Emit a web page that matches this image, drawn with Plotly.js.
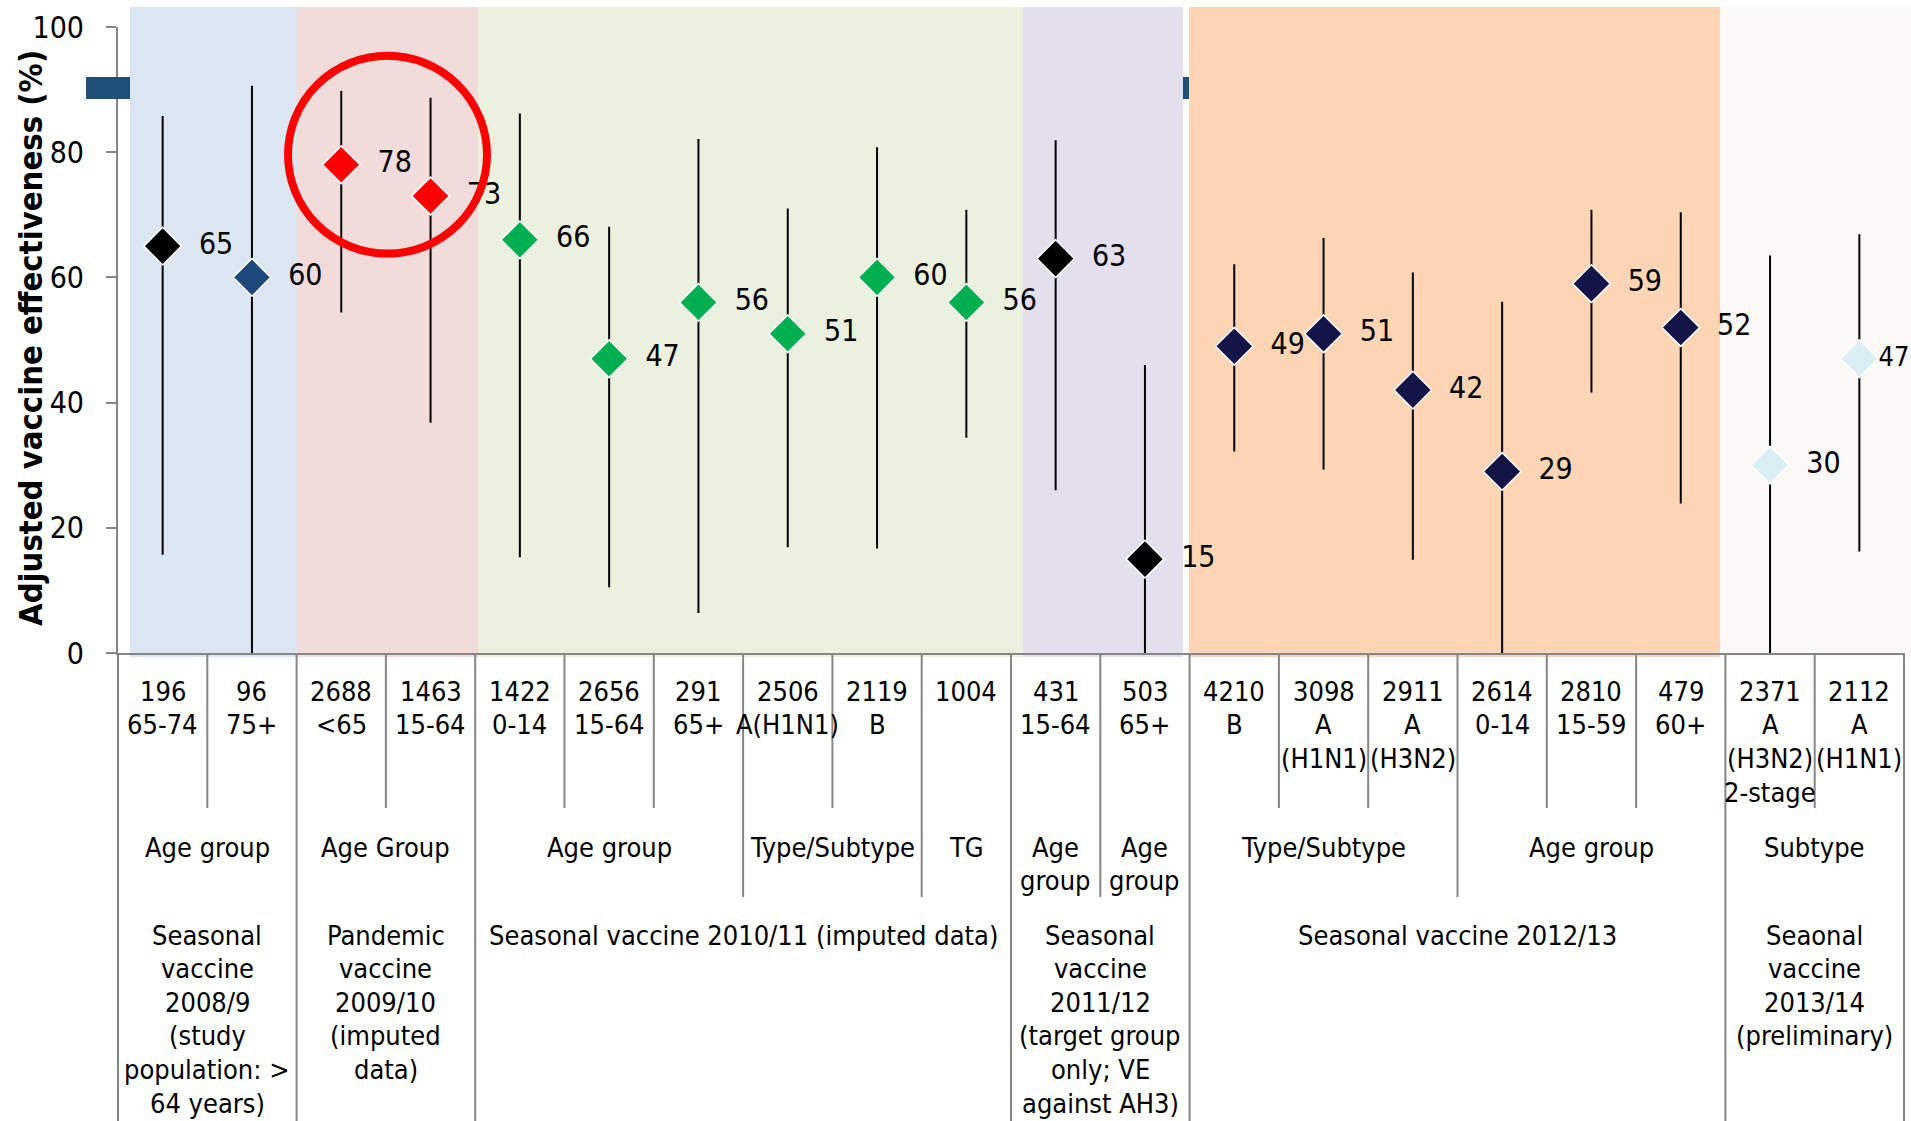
<!DOCTYPE html>
<html>
<head>
<meta charset="utf-8">
<script src="https://cdn.plot.ly/plotly-3.0.1.min.js"></script>
<style>html,body{margin:0;padding:0;background:#ffffff;}</style>
</head>
<body>
<div id="chart" style="width:1911px;height:1121px;"></div>
<script>
// ---------------- DATA ----------------
const sampleSizes = ['196','96','2688','1463','1422','2656','291','2506','2119','1004',
                     '431','503','4210','3098','2911','2614','2810','479','2371','2112'];
const subgroupLines = [['65-74'],['75+'],['&lt;65'],['15-64'],['0-14'],['15-64'],['65+'],['A(H1N1)'],['B'],[],
                       ['15-64'],['65+'],['B'],['A','(H1N1)'],['A','(H3N2)'],['0-14'],['15-59'],['60+'],
                       ['A','(H3N2)','2-stage'],['A','(H1N1)']];
const vaccineEffect = [65,60,78,73,66,47,56,51,60,56,63,15,49,51,42,29,59,52,30,47];
const ciLower = [15.7,0,54.4,36.8,15.3,10.5,6.4,16.9,16.7,34.4,26.0,0,32.2,29.3,14.9,0,41.6,23.9,0,16.2];
const ciUpper = [85.8,90.6,89.8,88.7,86.2,68.1,82.1,71.0,80.8,70.8,81.9,46.0,62.1,66.3,60.8,56.1,70.8,70.4,63.5,66.9];
const pointColors = ['#000000','#1F497D','#FF0000','#FF0000',
                     '#00B050','#00B050','#00B050','#00B050','#00B050','#00B050',
                     '#000000','#000000',
                     '#141446','#141446','#141446','#141446','#141446','#141446',
                     '#DAEEF3','#DAEEF3'];

const level2Labels = [['Age group'],['Age Group'],['Age group'],['Type/Subtype'],['TG'],
                      ['Age','group'],['Age','group'],['Type/Subtype'],['Age group'],['Subtype']];
const level2Start = [0,2,4,7,9,10,11,12,15,18];
const level2End   = [1,3,6,8,9,10,11,14,17,19];

const level3Labels = [
  ['Seasonal','vaccine','2008/9','(study','population: &gt;','64 years)'],
  ['Pandemic','vaccine','2009/10','(imputed','data)'],
  ['Seasonal vaccine 2010/11 (imputed data)'],
  ['Seasonal','vaccine','2011/12','(target group','only; VE','against AH3)'],
  ['Seasonal vaccine 2012/13'],
  ['Seaonal','vaccine','2013/14','(preliminary)']
];
const level3Start = [0,2,4,10,12,18];
const level3End   = [1,3,9,11,17,19];
const sectionColors = ['#DCE6F2','#F2DCDB','#EBF1DE','#E4DFEC','#FCD5B5','#FAF9F7'];

const yTitle = 'Adjusted vaccine effectiveness (%)';

// ---------------- LAYOUT HELPERS ----------------
const FONT = "'DejaVu Sans Condensed', 'DejaVu Sans', sans-serif";
const W = 1911, H = 1121;
const M = {l:118, r:7, t:27, b:468};
const plotH = H - M.t - M.b;           // 626
const axisPy = H - M.b;                // 653
const pyToPaper = py => (axisPy - py) / plotH;
const pxToPaper = px => (px - M.l) / (W - M.l - M.r);
const nCat = sampleSizes.length;
const boundToPaper = b => (b + 0.5) / nCat;
const CAT_SIZE = 27;

const xIdx = sampleSizes.map((_, i) => i);

const annotations = [];
// level 1 labels
sampleSizes.forEach((n, i) => {
  const lines = [n].concat(subgroupLines[i]);
  lines.forEach((t, j) => {
    annotations.push({x: i, xref: 'x', y: pyToPaper(691 + 33.7 * j), yref: 'paper',
      text: t, showarrow: false, xanchor: 'center', yanchor: 'middle',
      font: {family: FONT, size: CAT_SIZE, color: '#000000'}});
  });
});
// level 2 labels
level2Labels.forEach((lines, k) => {
  lines.forEach((t, j) => {
    annotations.push({x: (level2Start[k] + level2End[k]) / 2, xref: 'x', y: pyToPaper(847 + 33.3 * j), yref: 'paper',
      text: t, showarrow: false, xanchor: 'center', yanchor: 'middle',
      font: {family: FONT, size: CAT_SIZE, color: '#000000'}});
  });
});
// level 3 labels
level3Labels.forEach((lines, k) => {
  lines.forEach((t, j) => {
    annotations.push({x: (level3Start[k] + level3End[k]) / 2, xref: 'x', y: pyToPaper(935 + 33.6 * j), yref: 'paper',
      text: t, showarrow: false, xanchor: 'center', yanchor: 'middle',
      font: {family: FONT, size: CAT_SIZE, color: '#000000'}});
  });
});
// y axis title
annotations.push({x: pxToPaper(31), xref: 'paper', y: pyToPaper(338), yref: 'paper',
  text: '<b>' + yTitle + '</b>', textangle: -90, showarrow: false,
  xanchor: 'center', yanchor: 'middle',
  font: {family: FONT, size: 32.5, color: '#000000'}});

const shapes = [];
// section background bands (pixel-measured extents)
const bandPx = [[130,297],[297,478],[478,1023],[1023,1183],[1189,1720],[1720,1911]];
bandPx.forEach((b, k) => {
  shapes.push({type: 'rect', layer: 'below', xref: 'paper', yref: 'paper',
    x0: pxToPaper(b[0]), x1: pxToPaper(b[1]), y0: pyToPaper(657), y1: pyToPaper(7),
    fillcolor: sectionColors[k], line: {width: 0}});
});
// small blue artifacts near the top
[[86,130],[1183,1189]].forEach(b => {
  shapes.push({type: 'rect', layer: 'above', xref: 'paper', yref: 'paper',
    x0: pxToPaper(b[0]), x1: pxToPaper(b[1]), y0: pyToPaper(99), y1: pyToPaper(77),
    fillcolor: '#1F4E79', line: {width: 0}});
});
// dividers of the multi-level category axis
const lvl3Bounds = [-0.5].concat(level3End.map(e => e + 0.5));
const lvl2Bounds = level2End.map(e => e + 0.5).filter(b => lvl3Bounds.indexOf(b) < 0);
for (let b = -0.5; b <= nCat - 0.5; b += 1) {
  let bottom = 808;
  if (lvl2Bounds.indexOf(b) >= 0) bottom = 897;
  if (lvl3Bounds.indexOf(b) >= 0) bottom = 1121;
  shapes.push({type: 'line', layer: 'above', xref: 'paper', yref: 'paper',
    x0: boundToPaper(b), x1: boundToPaper(b), y0: 0, y1: pyToPaper(bottom),
    line: {color: '#868686', width: 2}});
}
// red highlight circle
shapes.push({type: 'circle', layer: 'above', xref: 'x', yref: 'y',
  x0: 1.404, x1: 3.632, y0: 63.8, y1: 95.4,
  line: {color: '#FF0000', width: 8}});

const trace = {
  type: 'scatter', mode: 'markers+text',
  x: xIdx, y: vaccineEffect,
  text: vaccineEffect.map((v, i) => (i === nCat - 1 ? '' : '&nbsp;&nbsp;') + v),
  textposition: 'middle right',
  textfont: {family: FONT, size: vaccineEffect.map((v, i) => i === nCat - 1 ? 27 : 30), color: '#000000'},
  cliponaxis: false,
  marker: {symbol: 'diamond', size: 29, color: pointColors, line: {color: '#FFFFFF', width: 1.5}},
  error_y: {type: 'data', symmetric: false,
    array: ciUpper.map((u, i) => u - vaccineEffect[i]),
    arrayminus: ciLower.map((l, i) => vaccineEffect[i] - l),
    color: '#000000', thickness: 2, width: 0},
  hoverinfo: 'skip', showlegend: false
};

const layout = {
  width: W, height: H,
  margin: M,
  paper_bgcolor: '#FFFFFF', plot_bgcolor: 'rgba(0,0,0,0)',
  showlegend: false,
  xaxis: {range: [-0.5, nCat - 0.5], showgrid: false, zeroline: false, showticklabels: false,
    ticks: '', showline: true, linecolor: '#868686', linewidth: 2, fixedrange: true},
  yaxis: {range: [0, 100], dtick: 20, tick0: 0, showgrid: false, zeroline: false,
    showline: true, linecolor: '#868686', linewidth: 2,
    ticks: 'outside', ticklen: 10, tickwidth: 2, tickcolor: '#868686',
    ticklabelstandoff: 16,
    tickfont: {family: FONT, size: 30, color: '#000000'}, fixedrange: true},
  annotations: annotations,
  shapes: shapes
};

Plotly.newPlot('chart', [trace], layout, {displayModeBar: false, staticPlot: true});
</script>
</body>
</html>
